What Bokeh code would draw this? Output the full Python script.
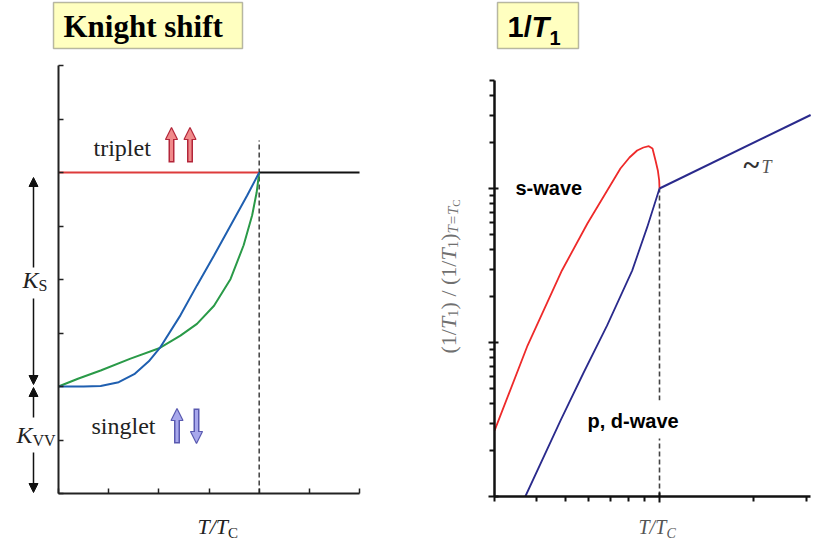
import math
from bokeh.plotting import figure
from bokeh.models import Range1d, FixedTicker, Label, Arrow, NormalHead, BoxAnnotation
from bokeh.layouts import row
from bokeh.embed import file_html
from bokeh.resources import INLINE

# ---------------- data : Knight shift panel ----------------
ks_x_ticks = [0, 1, 2, 3, 4, 5, 6]
ks_y_ticks = [0, 1, 2, 3, 4, 5, 6, 7, 8]
ks_tc = [4.0, 4.0]
ks_tc_y = [0.0, 6.6]
ks_triplet_x = [0.0, 4.0]
ks_triplet_y = [6.0, 6.0]
ks_normal_x = [4.0, 6.0]
ks_normal_y = [6.0, 6.0]
ks_blue_x = [0.0, 0.5, 0.84, 1.2, 1.51, 1.80, 2.02, 2.43, 2.76, 3.10, 3.43, 3.76, 4.0]
ks_blue_y = [2.0, 2.0, 2.01, 2.08, 2.23, 2.47, 2.72, 3.33, 3.89, 4.45, 5.01, 5.57, 6.0]
ks_green_x = [0.0, 0.4, 0.84, 1.435, 2.02, 2.43, 2.76, 3.10, 3.43, 3.69, 3.86, 3.95, 4.0]
ks_green_y = [2.0, 2.15, 2.30, 2.52, 2.72, 2.95, 3.17, 3.51, 4.01, 4.64, 5.20, 5.63, 6.0]

# ---------------- data : 1/T1 panel (log-log) ----------------
t1_x_major = [1.0]
t1_x_minor = [0.2, 0.3, 0.4, 0.5, 0.62, 0.74, 0.86, 2.5, 4.2]
t1_y_major = [0.01, 0.1, 1.0]
t1_y_minor = [0.02, 0.03, 0.04, 0.05, 0.06, 0.07, 0.08, 0.09,
              0.2, 0.3, 0.4, 0.5, 0.6, 0.7, 0.8, 0.9, 2, 3, 4, 5]
t1_normal_x = [1.0, 4.37]
t1_normal_y = [1.0, 3.0]
t1_s_x = [0.200, 0.276, 0.386, 0.495, 0.683, 0.746, 0.804, 0.855, 0.901, 0.934, 0.962, 0.984, 0.997, 1.0]
t1_s_y = [0.0268, 0.0956, 0.2935, 0.593, 1.349, 1.589, 1.765, 1.846, 1.883, 1.818, 1.520, 1.309, 1.127, 1.0]
t1_pd_x = [0.270, 0.381, 0.475, 0.600, 0.766, 0.887, 1.0]
t1_pd_y = [0.01, 0.0312, 0.0629, 0.129, 0.293, 0.561, 1.0]
t1_tc_x = [1.0, 1.0]
t1_tc_y = [0.01, 1.0]

SERIF = "Liberation Serif"
SANS = "Liberation Sans"
W, H = 407, 541
BASE_FIX = 0.32  # Bokeh places the 'alphabetic' anchor a bit below the real baseline


# pixel -> data helpers (for placing annotations only)
def lx(px): return (px - 58) / 50.17
def ly(py): return (493 - py) / 53.5
def rx(px): return 10 ** ((px - 659) / 236.0)
def ry(py): return 10 ** ((188 - py) / 154.0)


def lab(p, cx, cy, px, py, text, size, style="normal", color="#222", font=SERIF, rotated=False):
    if rotated:
        px = px - BASE_FIX * size
    else:
        py = py - BASE_FIX * size
    p.add_layout(Label(x=cx(px), y=cy(py), text=text, text_font=font, text_font_size=f"{size}px",
                       text_font_style=style, text_color=color, text_align="left",
                       text_baseline="alphabetic", angle=(math.pi / 2 if rotated else 0.0)))


def style_fig(p):
    p.outline_line_color = None
    p.xgrid.visible = False
    p.ygrid.visible = False
    p.background_fill_color = "white"
    p.border_fill_color = "white"


def spin_arrow(p, px, py_tail, py_tip, dark, light):
    d = 1 if py_tail > py_tip else -1  # +1: arrow points up on screen
    p.add_layout(Arrow(x_start=lx(px), y_start=ly(py_tail), x_end=lx(px), y_end=ly(py_tip),
                       line_color=dark, line_width=6,
                       end=NormalHead(size=12, fill_color=light, line_color=dark, line_width=1.2)))
    p.add_layout(Arrow(x_start=lx(px), y_start=ly(py_tail - d * 1.5), x_end=lx(px),
                       y_end=ly(py_tip + d * 11.5), line_color=light, line_width=3, end=None))


# ================= left panel =================
pl = figure(width=W, height=H, output_backend="svg", toolbar_location=None,
            x_range=Range1d(lx(0), lx(W)), y_range=Range1d(ly(H), ly(0)), min_border=0)
style_fig(pl)
for ax in (pl.xaxis, pl.yaxis):
    ax.fixed_location = 0
    ax.major_label_text_color = None
    ax.axis_line_width = 2
    ax.axis_line_color = "#222"
    ax.major_tick_line_color = "#222"
    ax.major_tick_line_width = 1.5
    ax.major_tick_in = 5
    ax.major_tick_out = 0
    ax.minor_tick_line_color = None
pl.xaxis.bounds = (0, 6)
pl.yaxis.bounds = (0, 8)
pl.xaxis.ticker = FixedTicker(ticks=ks_x_ticks)
pl.yaxis.ticker = FixedTicker(ticks=ks_y_ticks)

pl.line(ks_tc, ks_tc_y, line_color="#333", line_width=1.4, line_dash="5 3")
pl.line(ks_triplet_x, ks_triplet_y, line_color="#dd3b3b", line_width=2)
pl.line(ks_normal_x, ks_normal_y, line_color="#111", line_width=2)
pl.line(ks_green_x, ks_green_y, line_color="#2a9a48", line_width=2)
pl.line(ks_blue_x, ks_blue_y, line_color="#1f5fb0", line_width=2)

# title box
pl.add_layout(BoxAnnotation(left=lx(53), right=lx(242), top=ly(2), bottom=ly(48),
                            fill_color="#ffffc0", fill_alpha=1, line_color="#111", line_width=1.5))
lab(pl, lx, ly, 63, 36, "Knight shift", 31, style="bold", color="black")

lab(pl, lx, ly, 93, 155, "triplet", 24)
lab(pl, lx, ly, 91, 433, "singlet", 24)
spin_arrow(pl, 171, 162, 127, "#b3263a", "#f08a8a")
spin_arrow(pl, 189.5, 162, 127, "#b3263a", "#f08a8a")
spin_arrow(pl, 176.5, 443, 408, "#5a5ab0", "#a8a8ec")
spin_arrow(pl, 196, 408, 443, "#5a5ab0", "#a8a8ec")

# K_S / K_VV
lab(pl, lx, ly, 22, 287, "K", 24, style="italic")
lab(pl, lx, ly, 38, 290, "S", 16)
lab(pl, lx, ly, 16, 442, "K", 24, style="italic")
lab(pl, lx, ly, 32, 445, "VV", 16)
for (a, b) in [(267, 177), (298, 384), (417, 387), (452, 492)]:
    pl.add_layout(Arrow(x_start=lx(33), y_start=ly(a), x_end=lx(33), y_end=ly(b),
                        line_color="#111", line_width=1.5,
                        end=NormalHead(size=9, fill_color="#111", line_color="#111")))

lab(pl, lx, ly, 197, 533, "T/T", 22, style="italic")
lab(pl, lx, ly, 227.6, 537, "C", 15)

# ================= right panel =================
pr = figure(width=W, height=H, output_backend="svg", toolbar_location=None,
            x_axis_type="log", y_axis_type="log",
            x_range=Range1d(rx(407), rx(814)), y_range=Range1d(ry(H), ry(0)), min_border=0)
style_fig(pr)
for ax in (pr.xaxis, pr.yaxis):
    ax.major_label_text_color = None
    ax.axis_line_width = 2.5
    ax.axis_line_color = "#111"
    ax.major_tick_line_color = "#111"
    ax.minor_tick_line_color = "#111"
    ax.major_tick_line_width = 2
    ax.minor_tick_line_width = 2
    ax.major_tick_in = 4
    ax.major_tick_out = 6
    ax.minor_tick_in = 0
    ax.minor_tick_out = 5
pr.xaxis.fixed_location = 0.01
pr.yaxis.fixed_location = 0.2
pr.xaxis.bounds = (0.2, 4.37)
pr.yaxis.bounds = (0.01, 5)
pr.xaxis.ticker = FixedTicker(ticks=t1_x_major, minor_ticks=t1_x_minor)
pr.yaxis.ticker = FixedTicker(ticks=t1_y_major, minor_ticks=t1_y_minor)

pr.line(t1_tc_x, t1_tc_y, line_color="#444", line_width=1.6, line_dash="5 3")
pr.line(t1_s_x, t1_s_y, line_color="#ee2a2a", line_width=1.8)
pr.line(t1_pd_x, t1_pd_y, line_color="#2a2a8c", line_width=1.8)
pr.line(t1_normal_x, t1_normal_y, line_color="#2a2a8c", line_width=2)

pr.add_layout(BoxAnnotation(left=rx(497), right=rx(578), top=ry(2), bottom=ry(48),
                            fill_color="#ffffc0", fill_alpha=1, line_color="#111", line_width=1.5))
lab(pr, rx, ry, 507, 36, "1/", 29, style="bold", color="black", font=SANS)
lab(pr, rx, ry, 531, 36, "T", 29, style="bold italic", color="black", font=SANS)
lab(pr, rx, ry, 549, 44, "1", 20, style="bold", color="black", font=SANS)

lab(pr, rx, ry, 515, 194, "s-wave", 20, style="bold", color="black", font=SANS)
pr.add_layout(BoxAnnotation(left=rx(580), right=rx(690), top=ry(400), bottom=ry(438),
                            fill_color="white", fill_alpha=1, line_color=None))
lab(pr, rx, ry, 587, 427, "p, d-wave", 20, style="bold", color="black", font=SANS)

lab(pr, rx, ry, 743, 174, "~", 30, style="bold", color="#333")
lab(pr, rx, ry, 761, 172, "T", 18, style="italic", color="#555")

lab(pr, rx, ry, 638, 533, "T/T", 20, style="italic", color="#555")
lab(pr, rx, ry, 666, 537, "C", 14, style="italic", color="#555")

# rotated y label, pieces read bottom -> top: (text, size, style, shift right, advance)
GRAY = "#707070"
MAIN = 22
pieces = [("(1/", 22, "normal", 0, 24.4), ("T", 22, "italic", 0, 12.2), ("1", 15, "normal", 4.5, 7.5),
          (") / (1/", 22, "normal", 0, 48.9), ("T", 22, "italic", 0, 12.2), ("1", 15, "normal", 4.5, 7.5),
          (")", 22, "normal", 0, 7.3), ("T=T", 15, "italic", 4.5, 26.8), ("C", 11, "normal", 8, 7.3)]
py = 353.0
for txt, sz, st, shift, w in pieces:
    # keep all pieces on the same baseline: correction uses the main size
    lab(pr, rx, ry, 455 + shift - BASE_FIX * (MAIN - sz), py, txt, sz, style=st, color=GRAY, rotated=True)
    py -= w

layout = row(pl, pr)
open("out.html", "w").write(file_html(layout, INLINE))
